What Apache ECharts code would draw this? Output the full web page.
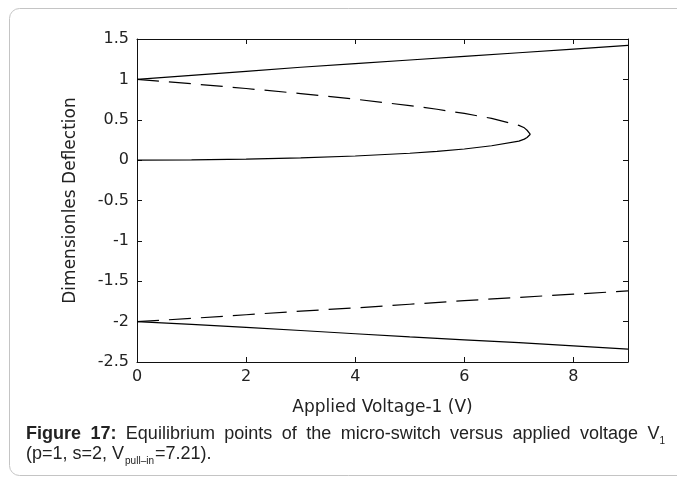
<!DOCTYPE html>
<html>
<head>
<meta charset="utf-8">
<script src="https://cdn.jsdelivr.net/npm/echarts@6/dist/echarts.min.js"></script>
<style>
html,body{margin:0;padding:0;background:#fff;}
#chart{width:677px;height:478px;}
</style>
</head>
<body>
<div id="chart"></div>
<script>
// Data
const xTicks = [0, 2, 4, 6, 8];
const yTicks = [-2.5, -2, -1.5, -1, -0.5, 0, 0.5, 1, 1.5];

// upper stable branch (solid)
const upperSolidX = [0, 1, 2, 3, 4, 5, 6, 7, 8, 9];
const upperSolidY = [1.00, 1.05, 1.10, 1.15, 1.195, 1.24, 1.285, 1.33, 1.375, 1.42];

// unstable branch near 1 (dashed), folding at pull-in voltage
const foldDashX = [0, 1, 2, 3, 4, 5, 5.5, 6, 6.5, 7, 7.1, 7.15, 7.21];
const foldDashY = [1.00, 0.946, 0.887, 0.824, 0.755, 0.675, 0.63, 0.578, 0.517, 0.43, 0.40, 0.37, 0.32];

// stable branch near 0 (solid)
const foldSolidX = [0, 1, 2, 3, 4, 5, 5.5, 6, 6.5, 7, 7.1, 7.15, 7.21];
const foldSolidY = [0.00, 0.003, 0.012, 0.027, 0.051, 0.085, 0.108, 0.138, 0.178, 0.235, 0.26, 0.28, 0.32];

// lower branches near -2
const lowerSolidX = [0, 1, 2, 3, 4, 5, 6, 7, 8, 9];
const lowerSolidY = [-2.00, -2.035, -2.07, -2.11, -2.15, -2.19, -2.225, -2.26, -2.30, -2.34];
const lowerDashX = [0, 1, 2, 3, 4, 5, 6, 7, 8, 9];
const lowerDashY = [-2.00, -1.96, -1.915, -1.87, -1.83, -1.785, -1.74, -1.70, -1.66, -1.62];

const xAxisTitle = 'Applied Voltage-1 (V)';
const yAxisTitle = 'Dimensionles Deflection';
const captionBold = ['Figure', '17:'];
const captionWords = ['Equilibrium', 'points', 'of', 'the', 'micro-switch', 'versus', 'applied', 'voltage', 'V'];
const captionSub1 = '1';
const caption2a = '(p=1, s=2, V';
const caption2sub = 'pull\u2013in';
const caption2b = '=7.21).';

function pairs(xs, ys) { return xs.map((x, i) => [x, ys[i]]); }

const axisFont = 'DejaVu Sans';
const capFont = 'Liberation Sans';
const capSize = 18, subSize = 10;
const ctx = document.createElement('canvas').getContext('2d');
function measure(t, bold, size) {
  ctx.font = (bold ? 'bold ' : '') + size + 'px "' + capFont + '"';
  return ctx.measureText(t).width;
}

// Caption line 1, justified between left and right edges
const capLeft = 26, capRight = 665;
const line1Y = 434, line2Y = 454, subDy = 7;
const tokens = captionBold.map(w => ({t: w, bold: true})).concat(captionWords.map(w => ({t: w, bold: false})));
let total = 0;
tokens.forEach(tk => { tk.w = measure(tk.t, tk.bold, capSize); total += tk.w; });
const subW1 = measure(captionSub1, false, subSize);
total += subW1;
const gap = (capRight - capLeft - total) / (tokens.length - 1);
const graphics = [
  {type: 'rect', silent: true, z: -1,
    shape: {x: 9.5, y: 8.5, width: 700, height: 467, r: 10},
    style: {fill: 'none', stroke: '#c4c4c4', lineWidth: 1}}
];
let cx = capLeft;
tokens.forEach(tk => {
  graphics.push({type: 'text', x: cx, y: line1Y, silent: true,
    style: {text: tk.t, font: (tk.bold ? 'bold ' : '') + capSize + 'px "' + capFont + '"',
      fill: '#222', align: 'left', verticalAlign: 'middle'}});
  cx += tk.w + gap;
});
cx -= gap;
graphics.push({type: 'text', x: cx, y: line1Y + subDy, silent: true,
  style: {text: captionSub1, font: subSize + 'px "' + capFont + '"', fill: '#222', align: 'left', verticalAlign: 'middle'}});

// Caption line 2
let cx2 = capLeft;
graphics.push({type: 'text', x: cx2, y: line2Y, silent: true,
  style: {text: caption2a, font: capSize + 'px "' + capFont + '"', fill: '#222', align: 'left', verticalAlign: 'middle'}});
cx2 += measure(caption2a, false, capSize) + 1;
graphics.push({type: 'text', x: cx2, y: line2Y + subDy, silent: true,
  style: {text: caption2sub, font: subSize + 'px "' + capFont + '"', fill: '#222', align: 'left', verticalAlign: 'middle'}});
cx2 += measure(caption2sub, false, subSize) + 1;
graphics.push({type: 'text', x: cx2, y: line2Y, silent: true,
  style: {text: caption2b, font: capSize + 'px "' + capFont + '"', fill: '#222', align: 'left', verticalAlign: 'middle'}});

const chart = echarts.init(document.getElementById('chart'), null, {renderer: 'canvas'});
const axisCommon = {
  axisLine: {show: true, onZero: false, lineStyle: {color: '#111', width: 1}},
  axisTick: {show: true, inside: true, length: 5, lineStyle: {color: '#111', width: 1}},
  splitLine: {show: false}
};
function lineSeries(data, dashed) {
  return {
    type: 'line', data: data, showSymbol: false, symbol: 'none', smooth: false,
    xAxisIndex: 0, yAxisIndex: 0, silent: true, animation: false,
    lineStyle: {color: '#000', width: 1.2, type: dashed ? [22, 10] : 'solid'}
  };
}
const option = {
  animation: false,
  grid: {left: 137, right: 49, top: 39, bottom: 116, containLabel: false},
  xAxis: [
    Object.assign({type: 'value', min: 0, max: 9, interval: 2, position: 'bottom',
      name: xAxisTitle, nameLocation: 'middle', nameGap: 37,
      nameTextStyle: {fontFamily: axisFont, fontSize: 17, color: '#222'},
      axisLabel: {fontFamily: axisFont, fontSize: 16, color: '#222', margin: 7,
        formatter: v => xTicks.indexOf(v) >= 0 ? String(v) : ''}}, axisCommon),
    Object.assign({type: 'value', min: 0, max: 9, interval: 2, position: 'top',
      axisLabel: {show: false}}, axisCommon)
  ],
  yAxis: [
    Object.assign({type: 'value', min: -2.5, max: 1.5, interval: 0.5, position: 'left',
      name: yAxisTitle, nameLocation: 'middle', nameGap: 58, nameRotate: 90,
      nameTextStyle: {fontFamily: axisFont, fontSize: 17, color: '#222'},
      axisLabel: {fontFamily: axisFont, fontSize: 16, color: '#222', margin: 8,
        formatter: v => yTicks.indexOf(v) >= 0 ? String(v) : ''}}, axisCommon),
    Object.assign({type: 'value', min: -2.5, max: 1.5, interval: 0.5, position: 'right',
      axisLabel: {show: false}}, axisCommon)
  ],
  series: [
    lineSeries(pairs(upperSolidX, upperSolidY), false),
    lineSeries(pairs(foldDashX, foldDashY), true),
    lineSeries(pairs(foldSolidX, foldSolidY), false),
    lineSeries(pairs(lowerSolidX, lowerSolidY), false),
    lineSeries(pairs(lowerDashX, lowerDashY), true)
  ],
  graphic: graphics
};
chart.setOption(option);
</script>
</body>
</html>
